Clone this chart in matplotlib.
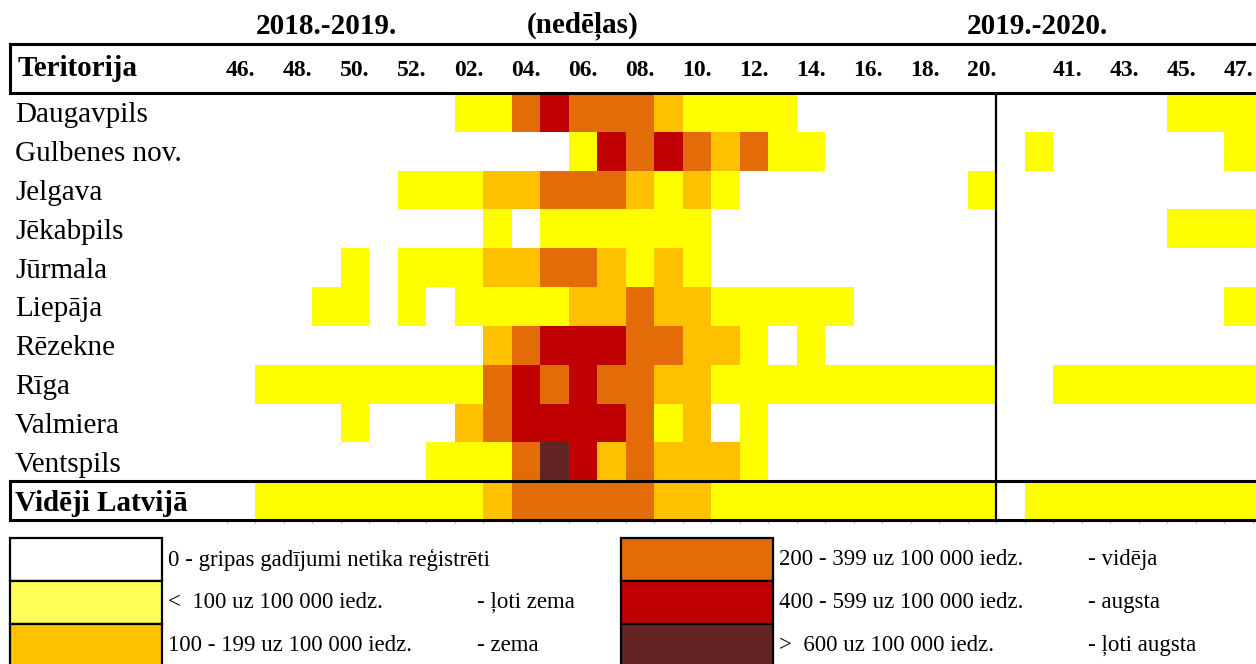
import matplotlib.pyplot as plt
import numpy as np
from matplotlib.colors import ListedColormap, BoundaryNorm
from matplotlib.lines import Line2D
from matplotlib.patches import Rectangle
from matplotlib import transforms

plt.rcParams['font.family'] = ['Liberation Serif', 'DejaVu Serif']

# teritorijas (rindas)
territories = ['Daugavpils', 'Gulbenes nov.', 'Jelgava', 'Jēkabpils', 'Jūrmala', 'Liepāja',
               'Rēzekne', 'Rīga', 'Valmiera', 'Ventspils', 'Vidēji Latvijā']

# nedēļas
weeks_1819 = [46, 47, 48, 49, 50, 51, 52] + list(range(1, 21))
weeks_1920 = [40, 41, 42, 43, 44, 45, 46, 47, 48]

# intensitātes līmenis: 0 nav, 1 ļoti zema, 2 zema, 3 vidēja, 4 augsta, 5 ļoti augsta
levels_1819 = [
    [0, 0, 0, 0, 0, 0, 0, 0, 1, 1, 3, 4, 3, 3, 3, 2, 1, 1, 1, 1, 0, 0, 0, 0, 0, 0, 0],
    [0, 0, 0, 0, 0, 0, 0, 0, 0, 0, 0, 0, 1, 4, 3, 4, 3, 2, 3, 1, 1, 0, 0, 0, 0, 0, 0],
    [0, 0, 0, 0, 0, 0, 1, 1, 1, 2, 2, 3, 3, 3, 2, 1, 2, 1, 0, 0, 0, 0, 0, 0, 0, 0, 1],
    [0, 0, 0, 0, 0, 0, 0, 0, 0, 1, 0, 1, 1, 1, 1, 1, 1, 0, 0, 0, 0, 0, 0, 0, 0, 0, 0],
    [0, 0, 0, 0, 1, 0, 1, 1, 1, 2, 2, 3, 3, 2, 1, 2, 1, 0, 0, 0, 0, 0, 0, 0, 0, 0, 0],
    [0, 0, 0, 1, 1, 0, 1, 0, 1, 1, 1, 1, 2, 2, 3, 2, 2, 1, 1, 1, 1, 1, 0, 0, 0, 0, 0],
    [0, 0, 0, 0, 0, 0, 0, 0, 0, 2, 3, 4, 4, 4, 3, 3, 2, 2, 1, 0, 1, 0, 0, 0, 0, 0, 0],
    [0, 1, 1, 1, 1, 1, 1, 1, 1, 3, 4, 3, 4, 3, 3, 2, 2, 1, 1, 1, 1, 1, 1, 1, 1, 1, 1],
    [0, 0, 0, 0, 1, 0, 0, 0, 2, 3, 4, 4, 4, 4, 3, 1, 2, 0, 1, 0, 0, 0, 0, 0, 0, 0, 0],
    [0, 0, 0, 0, 0, 0, 0, 1, 1, 1, 3, 5, 4, 2, 3, 2, 2, 2, 1, 0, 0, 0, 0, 0, 0, 0, 0],
    [0, 1, 1, 1, 1, 1, 1, 1, 1, 2, 3, 3, 3, 3, 3, 2, 2, 1, 1, 1, 1, 1, 1, 1, 1, 1, 1],
]
levels_1920 = [
    [0, 0, 0, 0, 0, 1, 1, 1, 1],
    [1, 0, 0, 0, 0, 0, 0, 1, 1],
    [0, 0, 0, 0, 0, 0, 0, 0, 0],
    [0, 0, 0, 0, 0, 1, 1, 1, 1],
    [0, 0, 0, 0, 0, 0, 0, 0, 0],
    [0, 0, 0, 0, 0, 0, 0, 1, 1],
    [0, 0, 0, 0, 0, 0, 0, 0, 0],
    [0, 1, 1, 1, 1, 1, 1, 1, 1],
    [0, 0, 0, 0, 0, 0, 0, 0, 0],
    [0, 0, 0, 0, 0, 0, 0, 0, 0],
    [1, 1, 1, 1, 1, 1, 1, 1, 1],
]

level_colors = ['#FFFFFF', '#FFFF00', '#FFC000', '#E36C09', '#C00000', '#632523']
legend_colors = ['#FFFFFF', '#FFFF55', '#FFC000', '#E36C09', '#C00000', '#632523']
legend_ranges = ['0 - gripas gadījumi netika reģistrēti', '<  100 uz 100 000 iedz.',
                 '100 - 199 uz 100 000 iedz.', '200 - 399 uz 100 000 iedz.',
                 '400 - 599 uz 100 000 iedz.', '>  600 uz 100 000 iedz.']
legend_levels = ['', '- ļoti zema', '- zema', '- vidēja', '- augsta', '- ļoti augsta']

W, H = 1256, 664
fig = plt.figure(figsize=(W / 100, H / 100), dpi=100)


def fx(x):
    return x / W


def fy(y):
    return 1 - y / H


# režģis: 1. sezona, tukša kolonna, 2. sezona
n1, n2 = len(weeks_1819), len(weeks_1920)
ncols = n1 + 1 + n2
nrows = len(territories)
grid = np.full((nrows, ncols), np.nan)
grid[:, :n1] = levels_1819
grid[:, n1 + 1:] = levels_1920
weeks = weeks_1819 + [None] + weeks_1920

col_w = 28.5
ax = fig.add_axes([fx(226.5), fy(520), fx(ncols * col_w), (520 - 93) / H])
cmap = ListedColormap(level_colors)
cmap.set_bad('white')
norm = BoundaryNorm(np.arange(-0.5, 6.5, 1), cmap.N)
ax.pcolormesh(np.arange(ncols + 1), np.arange(nrows + 1), np.ma.masked_invalid(grid),
              cmap=cmap, norm=norm, antialiased=False, linewidth=0)
ax.set_xlim(0, ncols)
ax.set_ylim(nrows, 0)
for s in ax.spines.values():
    s.set_visible(False)

# nedēļu nosaukumi augšā
pos, labs = [], []
for i, w in enumerate(weeks):
    if w is None:
        continue
    if (i < n1 and w % 2 == 0) or (i > n1 and w % 2 == 1):
        pos.append(i + 0.5)
        labs.append(f'{w:02d}.')
ax.xaxis.tick_top()
ax.set_xticks(pos, labs, fontsize=17, fontweight='bold')
ax.tick_params(axis='x', which='major', length=0, pad=8.5)
ax.set_xticks(np.arange(ncols + 1), minor=True)
ax.tick_params(axis='x', which='minor', top=False, bottom=True, length=2, width=1, color='#aaaaaa')

# teritoriju nosaukumi
ax.set_yticks(np.arange(nrows) + 0.5, territories, fontsize=21)
ax.tick_params(axis='y', length=0, pad=(226.5 - 15) * 0.72)
for t in ax.get_yticklabels():
    t.set_horizontalalignment('left')
ax.get_yticklabels()[-1].set_fontweight('bold')

ax.axvline(n1, color='black', lw=1.6)

# rāmji
tr = transforms.blended_transform_factory(fig.transFigure, ax.transData)
for y in [0, nrows - 1, nrows]:
    fig.add_artist(Line2D([fx(10), 1], [y, y], transform=tr, color='black', lw=2.2))
fig.add_artist(Line2D([fx(10), fx(10)], [nrows - 1, nrows], transform=tr, color='black', lw=2.2))
fig.add_artist(Line2D([fx(10), 1], [fy(44), fy(44)], color='black', lw=2.2))
fig.add_artist(Line2D([fx(10), fx(10)], [fy(44), fy(93)], color='black', lw=2.2))

fig.text(fx(18), fy(69), 'Teritorija', fontsize=21, fontweight='bold', ha='left', va='center')
fig.text(fx(326), fy(26), '2018.-2019.', fontsize=21, fontweight='bold', ha='center', va='center')
fig.text(fx(583), fy(26), '(nedēļas)', fontsize=21, fontweight='bold', ha='center', va='center')
fig.text(fx(1037), fy(26), '2019.-2020.', fontsize=21, fontweight='bold', ha='center', va='center')

# leģenda
box_h = 43
for k in range(6):
    col, row = divmod(k, 3)
    bx = [10, 621][col]
    by = 538 + row * box_h
    fig.add_artist(Rectangle((fx(bx), fy(by + box_h)), fx(152), box_h / H,
                             facecolor=legend_colors[k], edgecolor='black', lw=1.6))
    fig.text(fx(bx + 158), fy(by + box_h / 2), legend_ranges[k], fontsize=16.5,
             ha='left', va='center')
    if legend_levels[k]:
        fig.text(fx(bx + 467), fy(by + box_h / 2), legend_levels[k], fontsize=16.5,
                 ha='left', va='center')

plt.savefig('out.png', dpi=100)
